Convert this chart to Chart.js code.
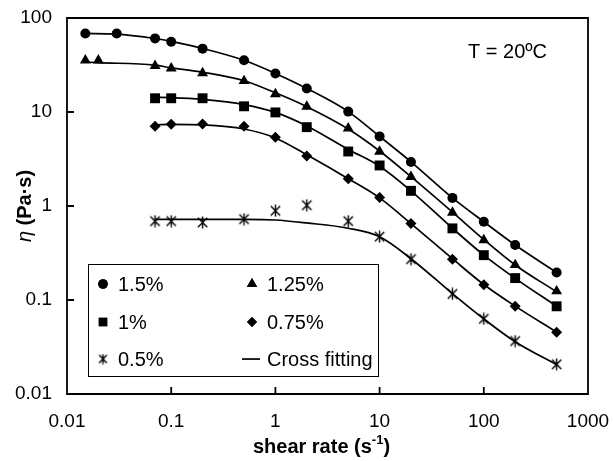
<!DOCTYPE html>
<html>
<head>
<meta charset="utf-8">
<script src="https://cdn.jsdelivr.net/npm/chart.js@4.4.0/dist/chart.umd.min.js"></script>
<style>
  html, body { margin: 0; padding: 0; background: #fff; }
</style>
</head>
<body>
<canvas id="viscosity" width="613" height="461"></canvas>
<script>
// shear rates (1/s) and viscosities (Pa.s)
const rateA = [0.015, 0.03, 0.07, 0.1, 0.2, 0.5, 1, 2, 5, 10, 20, 50, 100, 200, 500];
const rateB = [0.015, 0.02, 0.07, 0.1, 0.2, 0.5, 1, 2, 5, 10, 20, 50, 100, 200, 500];
const rateC = [0.07, 0.1, 0.2, 0.5, 1, 2, 5, 10, 20, 50, 100, 200, 500];

const eta150 = [68.5, 68.5, 60.7, 56, 47.2, 35.5, 25.7, 17.8, 10.1, 5.5, 2.94, 1.22, 0.68, 0.385, 0.196];
const eta125 = [35.5, 35.5, 31, 29.2, 25.9, 21.4, 15.5, 11.4, 6.7, 3.8, 2.04, 0.853, 0.435, 0.236, 0.124];
const eta100 = [14, 14, 14, 11.5, 9.9, 6.9, 3.8, 2.7, 1.45, 0.578, 0.3, 0.171, 0.0857];
const eta075 = [7.06, 7.4, 7.46, 7.06, 5.4, 3.4, 1.95, 1.23, 0.653, 0.272, 0.145, 0.0857, 0.0455];
const eta050 = [0.69, 0.69, 0.668, 0.725, 0.89, 1.02, 0.69, 0.472, 0.272, 0.116, 0.063, 0.0366, 0.0207];

// Cross model fitting curves
const fit150 = [68.5, 67.5, 60.5, 56.5, 47.5, 35.5, 25.7, 17.8, 10.1, 5.5, 2.95, 1.22, 0.68, 0.385, 0.196];
const fit125 = [34, 33.5, 31.5, 29.5, 26.5, 21.5, 16, 11.4, 6.6, 3.85, 2.05, 0.86, 0.44, 0.236, 0.122];
const fit100 = [14.3, 14.2, 13.6, 12, 9.9, 7.1, 4, 2.65, 1.45, 0.58, 0.3, 0.17, 0.086];
const fit075 = [7.3, 7.4, 7.3, 6.6, 5.3, 3.5, 1.95, 1.22, 0.65, 0.275, 0.146, 0.086, 0.0455];
const fit050 = [0.72, 0.72, 0.72, 0.72, 0.71, 0.66, 0.58, 0.47, 0.275, 0.117, 0.063, 0.036, 0.0205];

const xTicks = [0.01, 0.1, 1, 10, 100, 1000];
const xTickLabels = ['0.01', '0.1', '1', '10', '100', '1000'];
const yTicks = [0.01, 0.1, 1, 10, 100];
const yTickLabels = ['0.01', '0.1', '1', '10', '100'];
const legendLabels = ['1.5%', '1.25%', '1%', '0.75%', '0.5%', 'Cross fitting'];

const FONT = "'Liberation Sans', Arial, sans-serif";

// asterisk-like marker: an X with a vertical bar
function makeStar(size) {
  const c = document.createElement('canvas');
  c.width = size; c.height = size;
  const g = c.getContext('2d');
  const m = size / 2, r = size / 2 - 0.5, d = r * 0.78;
  g.strokeStyle = '#000';
  g.lineWidth = 1.4;
  g.beginPath();
  g.moveTo(m, m - r); g.lineTo(m, m + r);
  g.moveTo(m - d, m - d); g.lineTo(m + d, m + d);
  g.moveTo(m + d, m - d); g.lineTo(m - d, m + d);
  g.stroke();
  return c;
}
const star = makeStar(13);
const starSmall = makeStar(11);

const pts = (xs, ys) => xs.map((v, i) => ({ x: v, y: ys[i] }));

function markers(xs, ys, style, r) {
  return {
    data: pts(xs, ys), showLine: false, pointStyle: style, pointRadius: r,
    pointBackgroundColor: '#000', pointBorderColor: '#000', pointBorderWidth: 0
  };
}
function fit(xs, ys) {
  return {
    data: pts(xs, ys), showLine: true, pointRadius: 0, borderColor: '#000', borderWidth: 1.7,
    cubicInterpolationMode: 'monotone', fill: false
  };
}

const extras = {
  id: 'extras',
  afterDraw(chart) {
    const ctx = chart.ctx;
    const x = chart.scales.x, y = chart.scales.y;
    const L = x.getPixelForValue(xTicks[0]), R = x.getPixelForValue(xTicks[xTicks.length - 1]);
    const T = y.getPixelForValue(yTicks[yTicks.length - 1]), B = y.getPixelForValue(yTicks[0]);
    ctx.save();
    ctx.fillStyle = '#000';
    ctx.strokeStyle = '#000';

    // plot frame and inward tick marks
    ctx.lineWidth = 1.8;
    ctx.beginPath();
    ctx.moveTo(L, T); ctx.lineTo(R, T); ctx.lineTo(R, B); ctx.lineTo(L, B); ctx.closePath();
    xTicks.slice(1, -1).forEach(v => {
      const px = x.getPixelForValue(v);
      ctx.moveTo(px, B); ctx.lineTo(px, B - 7);
    });
    yTicks.slice(1, -1).forEach(v => {
      const py = y.getPixelForValue(v);
      ctx.moveTo(L, py); ctx.lineTo(L + 7, py);
    });
    ctx.stroke();

    // temperature note
    ctx.font = '20px ' + FONT;
    ctx.textBaseline = 'alphabetic';
    ctx.textAlign = 'left';
    ctx.fillText('T = 20ºC', 468, 58);

    // legend box
    ctx.lineWidth = 1;
    ctx.strokeRect(88.5, 264.5, 290, 112);
    const rows = [284, 322, 359];
    const cols = [103, 252];
    const styles = ['circle', 'triangle', 'rect', 'rectRot', starSmall, null];
    const radii = [4.8, 6, 6, 5, 5.5, 0];
    ctx.textBaseline = 'middle';
    legendLabels.forEach((lab, i) => {
      const cx = cols[i % 2], cy = rows[Math.floor(i / 2)];
      if (styles[i]) {
        ctx.beginPath();
        Chart.helpers.drawPoint(ctx, { pointStyle: styles[i], radius: radii[i], rotation: 0, borderWidth: 0 }, cx, cy);
        if (typeof styles[i] === 'string') ctx.fill();
      } else {
        ctx.fillRect(cx - 10, cy - 0.8, 18, 1.7);
      }
      ctx.font = '20px ' + FONT;
      ctx.fillText(lab, cx + 15, cy + 1);
    });

    // x axis title with superscript
    const cxT = (L + R) / 2 - 6;
    const base = 453;
    ctx.textBaseline = 'alphabetic';
    const t1 = 'shear rate (s', t3 = ')';
    ctx.font = 'bold 13px ' + FONT;
    const w2 = ctx.measureText('-1').width;
    ctx.font = 'bold 20px ' + FONT;
    const w1 = ctx.measureText(t1).width, w3 = ctx.measureText(t3).width;
    const sx = cxT - (w1 + w2 + w3) / 2;
    ctx.fillText(t1, sx, base);
    ctx.font = 'bold 13px ' + FONT;
    ctx.fillText('-1', sx + w1, base - 9);
    ctx.font = 'bold 20px ' + FONT;
    ctx.fillText(t3, sx + w1 + w2, base);

    // y axis title
    ctx.translate(24, (T + B) / 2);
    ctx.rotate(-Math.PI / 2);
    ctx.textBaseline = 'middle';
    ctx.font = 'italic 20px ' + FONT;
    const e = 'η ';
    const we = ctx.measureText(e).width;
    ctx.font = 'bold 20px ' + FONT;
    const wp = ctx.measureText('(Pa·s)').width;
    const yx = -(we + wp) / 2;
    ctx.font = 'italic 20px ' + FONT;
    ctx.fillText(e, yx, 1);
    ctx.font = 'bold 20px ' + FONT;
    ctx.fillText('(Pa·s)', yx + we, 1);
    ctx.restore();
  }
};

new Chart(document.getElementById('viscosity'), {
  type: 'scatter',
  data: {
    datasets: [
      markers(rateA, eta150, 'circle', 5),
      markers(rateB, eta125, 'triangle', 6.3),
      markers(rateC, eta100, 'rect', 7),
      markers(rateC, eta075, 'rectRot', 5.5),
      markers(rateC, eta050, star, 6.5),
      fit(rateA, fit150),
      fit(rateB, fit125),
      fit(rateC, fit100),
      fit(rateC, fit075),
      fit(rateC, fit050)
    ]
  },
  options: {
    responsive: false,
    animation: false,
    clip: false,
    layout: { padding: { top: 18, right: 25, left: 0, bottom: 0 } },
    plugins: { legend: { display: false }, tooltip: { enabled: false } },
    scales: {
      x: {
        type: 'logarithmic', min: 0.01, max: 1000,
        grid: { display: false, drawTicks: false },
        border: { display: false },
        afterBuildTicks: s => { s.ticks = xTicks.map(v => ({ value: v })); },
        afterFit: s => { s.height = 67; s.paddingLeft = 0; s.paddingRight = 0; },
        ticks: {
          autoSkip: false, maxRotation: 0, padding: 16, color: '#000',
          font: { family: FONT, size: 19 },
          callback: v => xTickLabels[xTicks.indexOf(v)]
        }
      },
      y: {
        type: 'logarithmic', min: 0.01, max: 100,
        grid: { display: false, drawTicks: false },
        border: { display: false },
        afterBuildTicks: s => { s.ticks = yTicks.map(v => ({ value: v })); },
        afterFit: s => { s.width = 67; s.paddingTop = 0; s.paddingBottom = 0; },
        ticks: {
          autoSkip: false, padding: 15, color: '#000',
          font: { family: FONT, size: 19 },
          callback: v => yTickLabels[yTicks.indexOf(v)]
        }
      }
    }
  },
  plugins: [extras]
});
</script>
</body>
</html>
